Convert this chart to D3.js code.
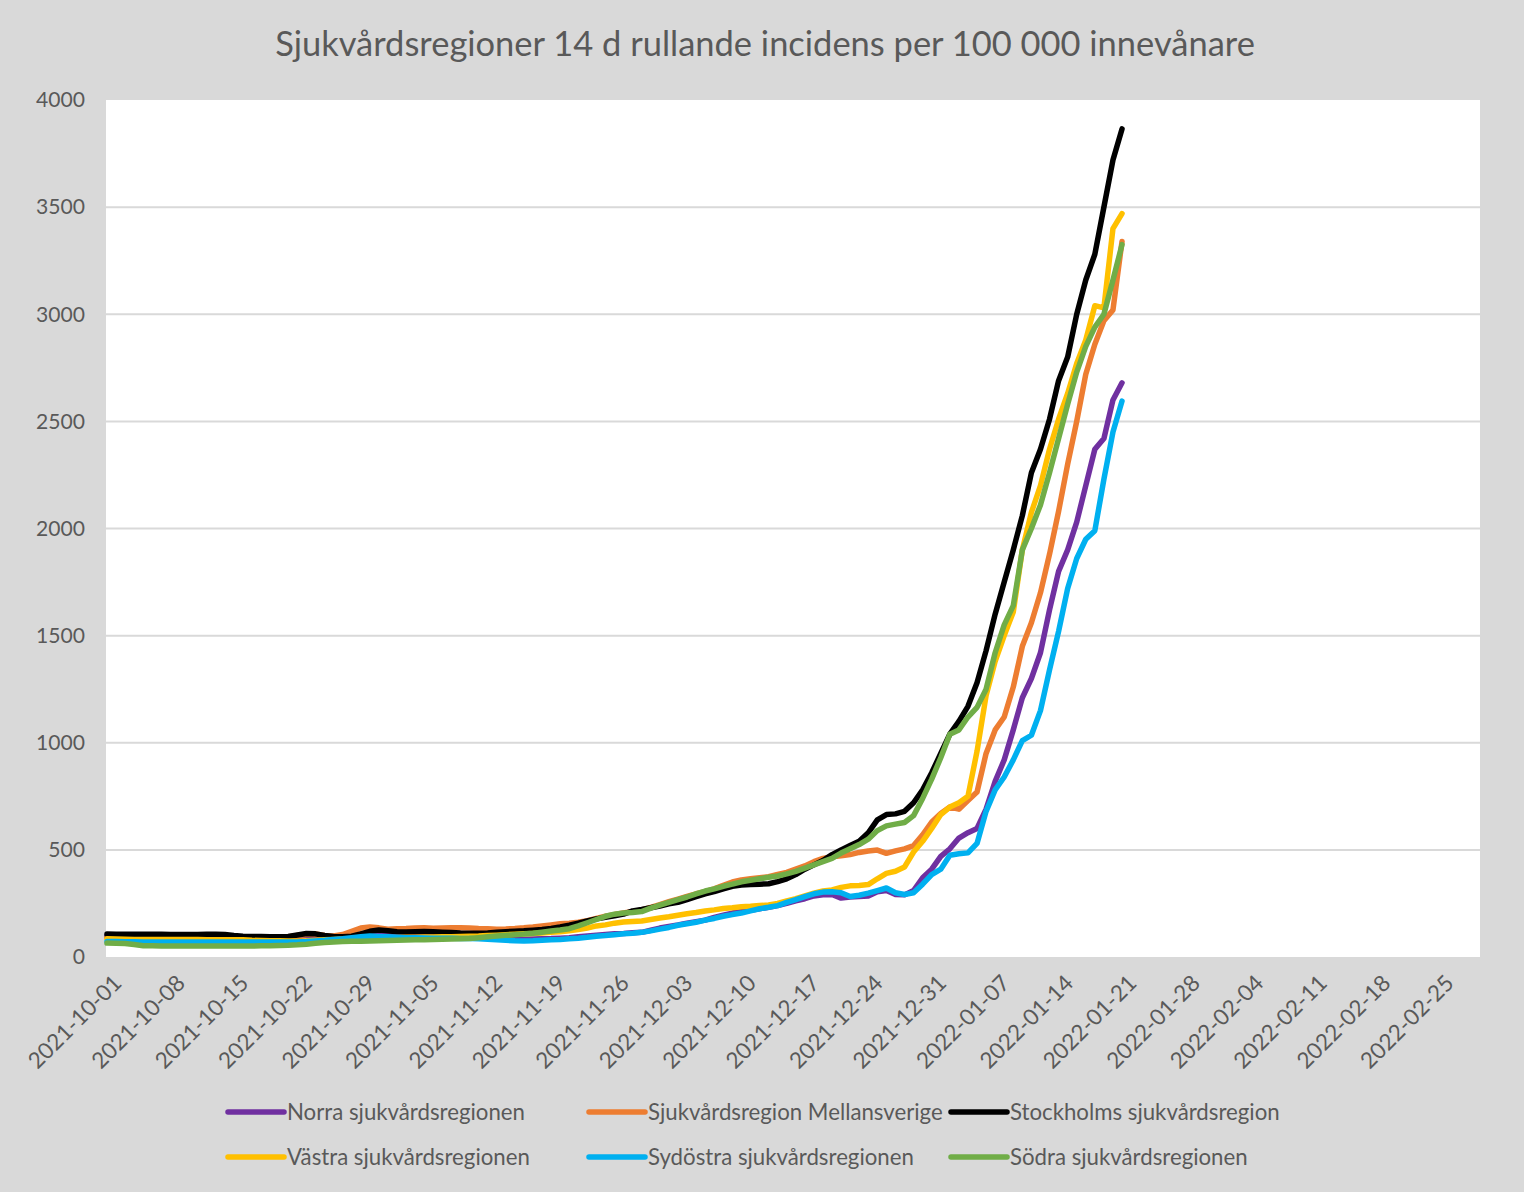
<!DOCTYPE html>
<html><head><meta charset="utf-8">
<script src="https://cdn.jsdelivr.net/npm/d3@7"></script>
<style>body{margin:0;background:#d9d9d9;} svg{display:block}</style>
</head><body>
<svg id="c" width="1524" height="1192"></svg>
<script>
const title = "Sjukvårdsregioner 14 d rullande incidens per 100 000 innevånare";
const startDate = "2021-10-01";
const seriesNames = ["Norra sjukvårdsregionen","Sjukvårdsregion Mellansverige","Stockholms sjukvårdsregion","Västra sjukvårdsregionen","Sydöstra sjukvårdsregionen","Södra sjukvårdsregionen"];
const seriesColors = ["#7030a0","#ed7d31","#000000","#ffc000","#00b0f0","#70ad47"];

const norra = [98,98,98,98,98,98,98,98,98,98,98,98,98,98,
 96,94,92,92,91,91,92,
 95,100,100,95,93,94,98,105,110,112,
 108,105,103,100,98,97,96,95,94,92,
 90,88,86,84,83,83,84,85,86,88,
 90,94,98,102,105,108,110,113,115,125,
 135,143,150,158,165,172,185,195,205,212,
 218,225,232,240,250,262,272,285,290,292,
 275,280,282,285,305,310,292,290,310,370,
 410,470,505,555,580,600,690,820,920,1060,
 1210,1300,1420,1620,1800,1900,2030,2200,2370,2420,
 2600,2680];
const mellansverige = [90,90,89,89,89,89,89,89,88,88,88,88,88,88,
 88,88,87,87,88,90,95,
 100,105,108,100,98,105,120,135,140,136,
 130,132,133,135,136,134,135,136,137,135,
 133,132,130,131,133,136,140,145,150,155,
 158,162,170,180,190,198,205,212,220,232,
 245,258,270,283,295,305,318,335,350,360,
 365,370,375,385,395,410,425,445,460,468,
 472,478,488,495,499,484,495,505,520,570,
 630,670,700,690,730,770,950,1060,1120,1260,
 1450,1560,1700,1880,2080,2300,2500,2720,2860,2970,
 3020,3340];
const stockholm = [107,106,106,106,106,106,106,105,105,105,105,106,106,105,
 100,97,96,96,95,95,96,
 103,110,108,100,96,95,97,108,120,126,
 122,118,117,118,119,118,116,114,112,111,
 111,112,115,118,120,122,125,128,133,140,
 148,158,168,178,185,192,200,215,222,230,
 238,248,255,268,282,295,305,318,330,336,
 338,340,342,352,365,385,410,430,450,478,
 500,520,540,580,640,665,668,680,720,780,
 860,950,1040,1100,1170,1280,1430,1600,1750,1900,
 2060,2260,2370,2510,2690,2800,3000,3160,3280,3500,
 3720,3865];
const vastra = [85,84,83,82,82,82,82,82,82,82,82,81,81,81,
 80,80,78,77,76,76,75,
 75,76,78,80,82,84,85,86,88,90,
 90,91,92,92,93,93,94,95,96,97,
 98,100,102,104,106,108,110,112,115,118,
 122,128,135,145,150,158,163,166,168,175,
 182,188,195,202,208,215,220,226,230,235,
 237,240,243,250,262,272,285,298,308,313,
 325,332,334,338,365,390,400,420,490,540,
 600,665,700,720,750,960,1220,1380,1500,1610,
 1900,2075,2200,2370,2510,2630,2770,2880,3040,3030,
 3400,3470];
const sydostra = [72,72,71,71,70,70,70,70,70,70,70,70,70,70,
 70,70,70,70,70,70,70,
 70,72,75,78,82,85,90,95,98,96,
 94,92,90,90,89,88,88,87,86,86,
 85,83,80,78,76,75,76,78,80,82,
 85,88,92,97,100,104,108,111,115,122,
 130,138,148,155,162,172,180,190,198,205,
 215,225,232,240,255,268,282,295,303,305,
 300,282,288,298,310,322,300,292,300,340,
 385,410,475,482,486,530,680,780,840,920,
 1010,1035,1150,1340,1520,1720,1860,1950,1990,2230,
 2450,2595];
const sodra = [65,64,63,58,53,52,51,51,51,51,51,51,51,51,
 51,51,51,52,53,54,55,
 57,60,64,68,70,72,73,74,75,76,
 77,78,79,80,81,82,83,84,85,86,
 90,94,98,101,104,107,111,116,121,126,
 132,145,160,175,190,200,205,208,212,228,
 242,255,268,280,295,308,318,330,340,351,
 358,365,372,378,388,400,415,430,445,460,
 485,505,525,550,590,612,620,628,660,740,
 830,930,1040,1060,1120,1165,1250,1420,1550,1640,
 1900,2000,2110,2260,2420,2580,2730,2850,2940,3000,
 3160,3325];

const xTickLabels = ["2021-10-01","2021-10-08","2021-10-15","2021-10-22","2021-10-29","2021-11-05","2021-11-12","2021-11-19","2021-11-26","2021-12-03","2021-12-10","2021-12-17","2021-12-24","2021-12-31","2022-01-07","2022-01-14","2022-01-21","2022-01-28","2022-02-04","2022-02-11","2022-02-18","2022-02-25"];
const yTicks = [0,500,1000,1500,2000,2500,3000,3500,4000];

const seriesValues = [norra, mellansverige, stockholm, vastra, sydostra, sodra];
const parse = d3.utcParse("%Y-%m-%d");
const start = parse(startDate);
const dates = norra.map((_, i) => d3.utcDay.offset(start, i));

const svg = d3.select("#c");
const FONT = "Lato, 'Open Sans', sans-serif";
const TXT = "#595959";
const P = {left:106, top:100, right:1480, bottom:957};

const x = d3.scaleUtc()
  .domain([start, new Date(Date.UTC(2022, 2, 1, 12))])
  .range([107, P.right]);
const y = d3.scaleLinear().domain([0, 4000]).range([P.bottom, P.top]);

svg.append("rect").attr("x",0).attr("y",0).attr("width",1524).attr("height",1192).attr("fill","#d9d9d9");
svg.append("rect").attr("x",P.left).attr("y",P.top).attr("width",P.right-P.left).attr("height",P.bottom-P.top).attr("fill","#ffffff");

function fit(sel, target) {
  const w = sel.node().getComputedTextLength();
  const fs = parseFloat(sel.attr("font-size"));
  return fs * target / w;
}

// gridlines
svg.append("g").selectAll("line").data(yTicks.filter(v => v > 0 && v < 4000)).join("line")
  .attr("x1", P.left).attr("x2", P.right)
  .attr("y1", d => y(d)).attr("y2", d => y(d))
  .attr("stroke", "#d9d9d9").attr("stroke-width", 2);

// y axis labels
const yAxis = d3.axisLeft(y).tickValues(yTicks).tickFormat(d3.format("d")).tickSize(0).tickPadding(0);
const yg = svg.append("g").attr("transform", `translate(85,0)`).call(yAxis);
yg.select(".domain").remove();
yg.selectAll("text").attr("font-family", FONT).attr("font-size", 20).attr("fill", TXT);
const yfs = fit(yg.selectAll("text").filter(d => d === 4000), 49);
yg.selectAll("text").attr("font-size", yfs);

// x axis labels
const xTickDates = xTickLabels.map(parse);
const xAxis = d3.axisBottom(x).tickValues(xTickDates).tickFormat(d3.utcFormat("%Y-%m-%d")).tickSize(0);
const xg = svg.append("g").attr("transform", `translate(0,${P.bottom})`).call(xAxis);
xg.select(".domain").remove();
xg.selectAll("text")
  .attr("font-family", FONT).attr("font-size", 17).attr("fill", TXT)
  .attr("text-anchor", "end").attr("dy", "0.35em").attr("y", 0)
  .attr("transform", "translate(10,22) rotate(-45)");
const xfs = fit(xg.select("text"), 121);
xg.selectAll("text").attr("font-size", xfs);

// lines
const line = d3.line().x((d, i) => x(dates[i])).y(d => y(d));
svg.append("g").selectAll("path").data(seriesValues).join("path")
  .attr("d", d => line(d))
  .attr("fill", "none")
  .attr("stroke", (d, i) => seriesColors[i])
  .attr("stroke-width", 5.5)
  .attr("stroke-linejoin", "round")
  .attr("stroke-linecap", "round");

// title
const t = svg.append("text").attr("x", 765).attr("y", 56).attr("text-anchor", "middle")
  .attr("font-family", FONT).attr("font-size", 30).attr("fill", TXT).text(title);
t.attr("font-size", fit(t, 980));

// legend
const legCols = [228, 589, 951];
const legRows = [1112, 1157];
const items = svg.append("g").selectAll("g").data(seriesNames).join("g")
  .attr("transform", (d, i) => `translate(${legCols[i % 3]},${legRows[Math.floor(i / 3)]})`);
items.append("line").attr("x1", 0).attr("x2", 56).attr("y1", 0).attr("y2", 0)
  .attr("stroke", (d, i) => seriesColors[i]).attr("stroke-width", 5.5).attr("stroke-linecap", "round");
const lt = items.append("text").attr("x", 59).attr("y", 0).attr("dy", "0.35em")
  .attr("font-family", FONT).attr("font-size", 20).attr("fill", TXT).text(d => d);
const lfs = fit(lt.filter((d, i) => i === 0), 238);
lt.attr("font-size", lfs);
</script>
</body></html>
